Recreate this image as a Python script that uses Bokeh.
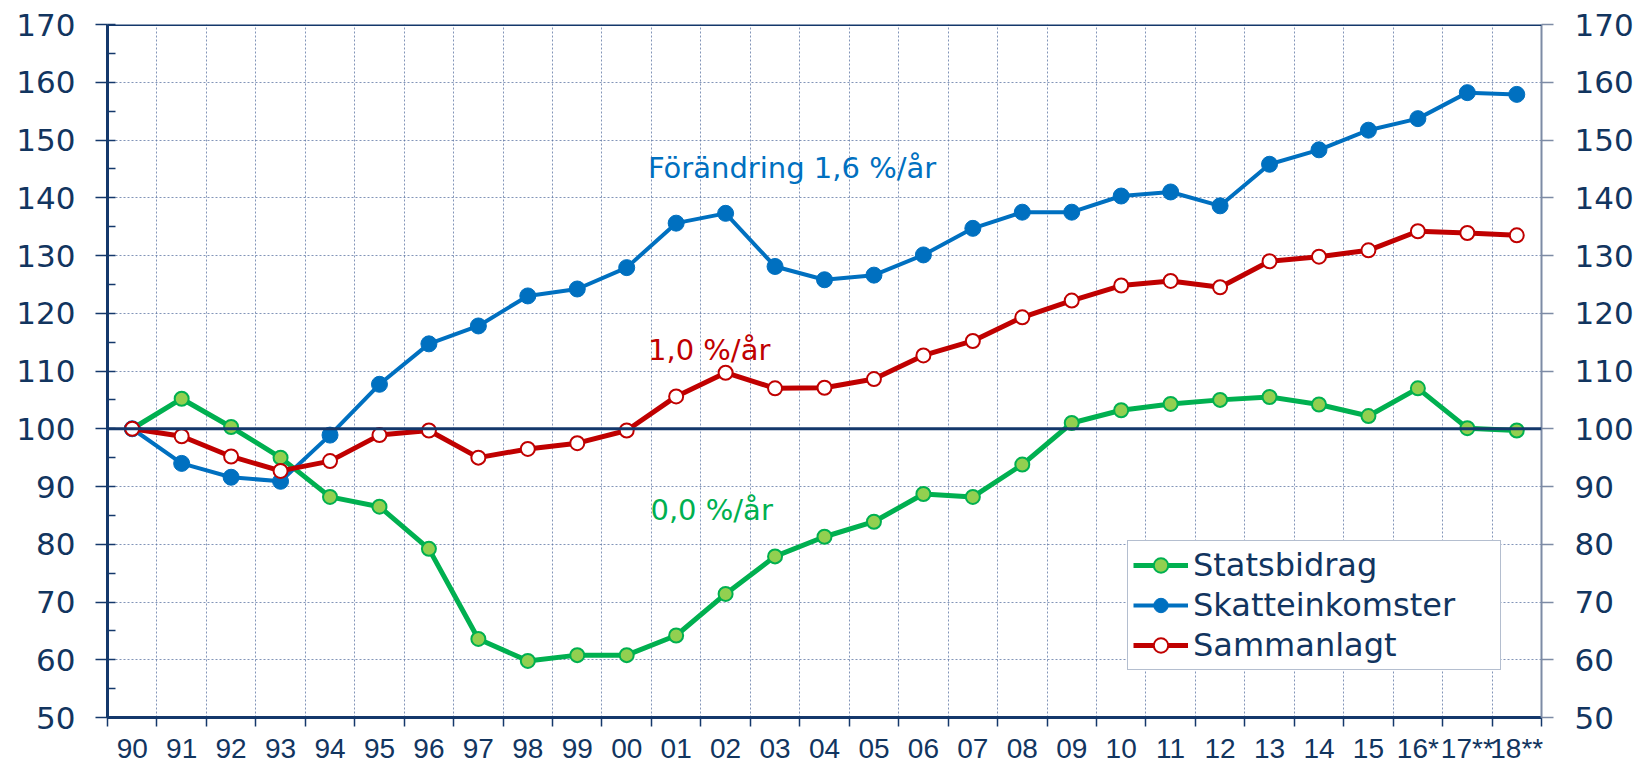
from bokeh.plotting import figure
from bokeh.models import (Range1d, LinearAxis, FixedTicker, SingleIntervalTicker,
                          Span, Legend, LegendItem, Label)
from bokeh.embed import file_html
from bokeh.resources import INLINE

# ---- data ----
years = ["90", "91", "92", "93", "94", "95", "96", "97", "98", "99",
         "00", "01", "02", "03", "04", "05", "06", "07", "08", "09",
         "10", "11", "12", "13", "14", "15", "16*", "17**", "18**"]
statsbidrag = [100, 105.2, 100.3, 95.0, 88.2, 86.5, 79.2, 63.6, 59.8, 60.8,
               60.8, 64.2, 71.4, 77.9, 81.3, 83.9, 88.7, 88.2, 93.8, 101.0,
               103.2, 104.3, 105.0, 105.5, 104.2, 102.2, 107.0, 100.1, 99.7]
skatteinkomster = [100, 94.0, 91.6, 90.9, 98.9, 107.7, 114.7, 117.8, 123.0, 124.2,
                   127.9, 135.6, 137.3, 128.1, 125.8, 126.6, 130.1, 134.7, 137.5, 137.5,
                   140.3, 141.0, 138.6, 145.8, 148.3, 151.7, 153.7, 158.2, 157.9]
sammanlagt = [100, 98.7, 95.2, 92.7, 94.4, 98.9, 99.7, 95.0, 96.5, 97.5,
              99.7, 105.6, 109.7, 107.0, 107.1, 108.6, 112.7, 115.2, 119.3, 122.2,
              124.8, 125.6, 124.5, 129.0, 129.8, 130.9, 134.2, 133.9, 133.5]
series_names = ["Statsbidrag", "Skatteinkomster", "Sammanlagt"]
notes = ["Förändring 1,6 %/år", "1,0 %/år", "0,0 %/år"]

NAVY = "#12355F"
AXIS = "#14386B"
GRID = "#5872A0"
GREEN = "#00B050"
GREEN_FILL = "#92D050"
BLUE = "#0070C0"
RED = "#C00000"

n = len(years)
xs = [i + 0.5 for i in range(n)]
bounds = list(range(n + 1))

p = figure(width=1636, height=766, output_backend="svg", toolbar_location=None,
           x_range=Range1d(0, n), y_range=Range1d(50, 170),
           x_axis_location=None, y_axis_location=None,
           min_border_left=107, min_border_right=94, min_border_top=24, min_border_bottom=48)
p.outline_line_color = None
p.background_fill_color = "white"

yt = SingleIntervalTicker(interval=10, num_minor_ticks=2)

# left axis
left = LinearAxis(ticker=yt)
left.axis_line_color = AXIS
left.axis_line_width = 3
left.major_tick_line_color = AXIS
left.major_tick_line_width = 1.5
left.major_tick_out = 12
left.major_tick_in = 0
left.minor_tick_line_color = AXIS
left.minor_tick_line_width = 1.5
left.minor_tick_in = 8
left.minor_tick_out = 0
left.major_label_standoff = 20
left.major_label_text_font = "DejaVu Sans"
left.major_label_text_font_size = "31px"
left.major_label_text_color = NAVY
p.add_layout(left, "left")

# right axis
right = LinearAxis(ticker=SingleIntervalTicker(interval=10, num_minor_ticks=0))
right.axis_line_color = "#7D8BA5"
right.axis_line_width = 2
right.major_tick_line_color = "#7D8BA5"
right.major_tick_line_width = 1.5
right.major_tick_out = 12
right.major_tick_in = 0
right.minor_tick_out = 0
right.minor_tick_in = 0
right.major_label_standoff = 21
right.major_label_text_font = "DejaVu Sans"
right.major_label_text_font_size = "31px"
right.major_label_text_color = NAVY
p.add_layout(right, "right")

# bottom axis
bottom = LinearAxis(ticker=FixedTicker(ticks=xs, minor_ticks=bounds))
bottom.major_label_overrides = {x: lab for x, lab in zip(xs, years)}
bottom.axis_line_color = AXIS
bottom.axis_line_width = 3
bottom.major_tick_out = 0
bottom.major_tick_in = 0
bottom.minor_tick_line_color = AXIS
bottom.minor_tick_line_width = 1.5
bottom.minor_tick_out = 9
bottom.minor_tick_in = 0
bottom.major_label_standoff = 6
bottom.major_label_text_font = "Liberation Sans"
bottom.major_label_text_font_size = "28px"
bottom.major_label_text_color = NAVY
p.add_layout(bottom, "below")

# grids
p.xgrid.ticker = FixedTicker(ticks=bounds[1:-1])
p.ygrid.ticker = FixedTicker(ticks=list(range(60, 170, 10)))
for g in (p.xgrid, p.ygrid):
    g.grid_line_color = GRID
    g.grid_line_alpha = 0.75
    g.grid_line_width = 1
    g.grid_line_dash = "2 2"

# top border and 100 reference line
p.add_layout(Span(location=170, dimension="width", line_color=AXIS, line_width=3))
p.add_layout(Span(location=100, dimension="width", line_color=AXIS, line_width=3))

# series
gl = p.line(xs, statsbidrag, line_color=GREEN, line_width=5)
gm = p.scatter(xs, statsbidrag, size=14, fill_color=GREEN_FILL, line_color=GREEN, line_width=2)
bl = p.line(xs, skatteinkomster, line_color=BLUE, line_width=4)
bm = p.scatter(xs, skatteinkomster, size=16, fill_color=BLUE, line_color=BLUE, line_width=1)
rl = p.line(xs, sammanlagt, line_color=RED, line_width=5)
rm = p.scatter(xs, sammanlagt, size=14, fill_color="white", line_color=RED, line_width=2)

legend = Legend(items=[LegendItem(label=series_names[0], renderers=[gl, gm]),
                       LegendItem(label=series_names[1], renderers=[bl, bm]),
                       LegendItem(label=series_names[2], renderers=[rl, rm])],
                location=(1020, 47))
legend.label_text_font = "DejaVu Sans"
legend.label_text_font_size = "32px"
legend.label_text_color = NAVY
legend.glyph_width = 55
legend.glyph_height = 36
legend.label_height = 36
legend.label_width = 302
legend.label_standoff = 5
legend.spacing = 2
legend.padding = 5
legend.margin = 0
legend.border_line_color = "#6A7EA0"
legend.border_line_width = 1.5
legend.background_fill_color = "white"
legend.background_fill_alpha = 1
p.add_layout(legend, "center")

# annotations
for txt, xv, yv, col in zip(notes, [10.93, 10.93, 10.98], [145.2, 113.7, 85.9], [BLUE, RED, GREEN]):
    p.add_layout(Label(x=xv, y=yv, text=txt, text_color=col, text_font="DejaVu Sans",
                       text_font_size="29px", text_baseline="middle", text_align="left"))

open("out.html", "w").write(file_html(p, INLINE))
